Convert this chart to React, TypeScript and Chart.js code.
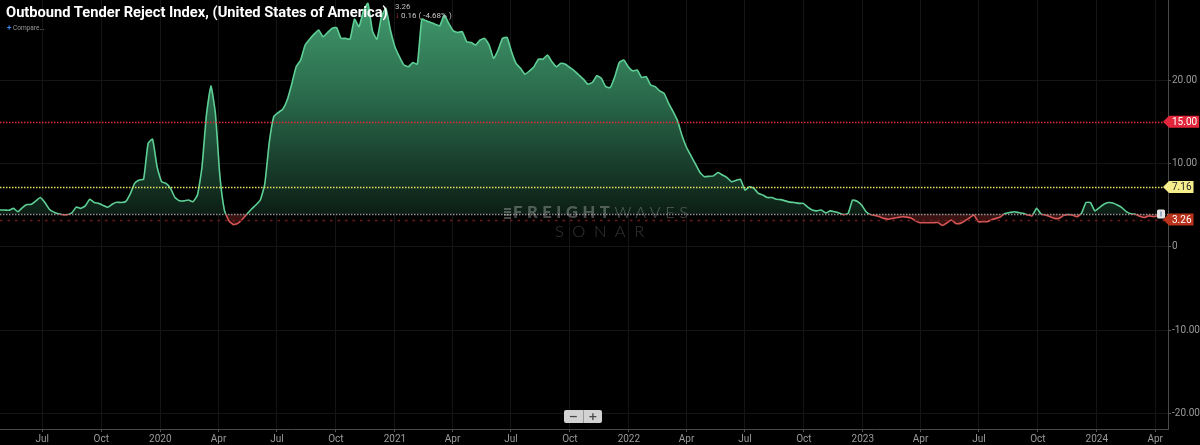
import React, { useEffect, useRef } from "react";
import { Chart, registerables } from "chart.js";

Chart.register(...registerables);

// ---------- text ----------
const titleText = "Outbound Tender Reject Index, (United States of America)";
const lastValueText = "3.26";
const changeText = "0.16 ( -4.68% )";
const compareText = "Compare...";
const watermarkBold = "FREIGHT";
const watermarkLight = "WAVES";
const watermarkSub = "SONAR";

// ---------- data ----------
const seriesStart = "2019-04-26"; // first weekly observation
const weeklyValues = [
  4.4, 4.4, 4.37, 4.6, 4.2, 4.7, 5.05, 5.1, 5.5, 5.9,
  5.3, 4.5, 4.15, 3.95, 3.84, 3.84, 4.05, 4.75, 4.6, 4.9,
  5.7, 5.3, 5.2, 4.95, 4.73, 5.1, 5.33, 5.3, 5.4, 6.3,
  7.6, 8.0, 8.1, 12.4, 12.9, 9.6, 7.8, 7.6, 7.0, 5.9,
  5.5, 5.5, 5.6, 5.4, 6.2, 9.5, 15.8, 19.3, 16.0, 8.5,
  4.4, 3.1, 2.65, 2.8, 3.3, 3.9, 4.5, 5.0, 5.6, 7.5,
  12.5, 15.6, 16.1, 16.5, 17.6, 19.5, 21.6, 22.4, 24.2, 24.9,
  25.5, 26.0, 25.2, 25.7, 26.2, 26.3, 25.0, 25.0, 24.9, 27.3,
  26.4, 28.3, 29.2, 25.9, 24.9, 27.6, 28.6, 26.0, 24.0, 22.8,
  21.8, 21.6, 22.1, 21.9, 27.3, 27.1, 26.9, 26.7, 26.5, 27.8,
  26.8, 25.9, 25.7, 25.8, 24.6, 24.5, 24.2, 24.8, 25.0, 24.2,
  22.6, 23.6, 25.0, 25.1, 23.4, 22.0, 21.4, 20.7, 21.1, 21.6,
  22.5, 22.5, 23.0, 22.2, 21.6, 22.0, 21.9, 21.5, 21.1, 20.6,
  20.1, 19.5, 19.7, 20.5, 20.2, 19.2, 19.1, 20.4, 22.1, 22.4,
  21.6, 21.1, 21.2, 20.3, 20.4, 19.4, 19.2, 18.7, 18.4, 17.2,
  16.2, 15.1, 13.3, 11.9, 10.9, 9.9, 8.9, 8.4, 8.45, 8.5,
  8.9, 8.6, 8.3, 7.8, 7.95, 8.1, 6.8, 7.2, 7.0, 6.4,
  6.2, 5.9, 5.9, 5.7, 5.65, 5.5, 5.35, 5.3, 5.2, 5.2,
  4.75, 4.4, 4.3, 4.4, 4.05, 4.3, 4.2, 4.05, 3.84, 4.0,
  5.6, 5.45, 5.0, 4.2, 3.85, 3.75, 3.6, 3.4, 3.3, 3.4,
  3.5, 3.6, 3.55, 3.45, 3.1, 2.88, 2.88, 2.88, 2.88, 2.9,
  2.55, 2.85, 3.2, 2.8, 2.8, 3.1, 3.45, 3.8, 3.0, 3.0,
  3.0, 3.25, 3.4, 3.6, 4.0, 4.1, 4.2, 4.1, 4.0, 3.8,
  3.7, 4.6, 3.9, 3.8, 3.6, 3.4, 3.4, 3.75, 3.85, 3.8,
  3.6, 4.0, 5.3, 5.3, 4.3, 4.7, 5.1, 5.3, 5.25, 5.0,
  4.7, 4.2, 3.95, 3.9, 3.65, 3.5, 3.7, 3.6, 3.7,
];

const axisStartDate = "2019-04-26";
const axisEndDate = "2024-04-21";
const xTickDates = [
  "2019-07-01", "2019-10-01", "2020-01-01", "2020-04-01", "2020-07-01",
  "2020-10-01", "2021-01-01", "2021-04-01", "2021-07-01", "2021-10-01",
  "2022-01-01", "2022-04-01", "2022-07-01", "2022-10-01", "2023-01-01",
  "2023-04-01", "2023-07-01", "2023-10-01", "2024-01-01", "2024-04-01",
];
const xTickLabels = [
  "Jul", "Oct", "2020", "Apr", "Jul", "Oct", "2021", "Apr", "Jul", "Oct",
  "2022", "Apr", "Jul", "Oct", "2023", "Apr", "Jul", "Oct", "2024", "Apr",
];
const yTickValues = [-20, -10, 0, 10, 20];
const yAxisMin = -21.87;
const yAxisMax = 29.6;

const baselineValue = 3.93; // comparison baseline (grey dotted)
const upperThreshold = 15; // red dotted
const averageValue = 7.16; // yellow dotted
const currentValue = 3.26; // dark red dashed
const upperLabel = "15.00";
const averageLabel = "7.16";
const currentLabel = "3.26";

// ---------- helpers ----------
const DAY_MS = 86400000;
const dayOf = (s: string) => Date.parse(s + "T00:00:00Z") / DAY_MS;

const GREEN = "#5dcf95";
const RED = "#d65454";

function splitGradient(chart: any, above: string, below: string) {
  const { ctx, chartArea: a, scales } = chart;
  if (!a || !scales.y) return above;
  const yb = scales.y.getPixelForValue(baselineValue);
  const t = Math.min(1, Math.max(0, (yb - a.top) / (a.bottom - a.top)));
  const g = ctx.createLinearGradient(0, a.top, 0, a.bottom);
  g.addColorStop(0, above);
  g.addColorStop(t, above);
  g.addColorStop(t, below);
  g.addColorStop(1, below);
  return g;
}

function fillGradient(chart: any) {
  const { ctx, chartArea: a, scales } = chart;
  if (!a || !scales.y) return "rgba(40,100,70,0.8)";
  const yb = scales.y.getPixelForValue(baselineValue);
  const g = ctx.createLinearGradient(0, a.top, 0, yb);
  g.addColorStop(0, "rgba(66,156,111,1)");
  g.addColorStop(0.45, "rgba(42,106,75,1)");
  g.addColorStop(1, "rgba(12,30,21,1)");
  return g;
}

const overlayPlugin = {
  id: "refOverlay",
  afterDatasetsDraw(chart: any) {
    const { ctx, chartArea: a, scales } = chart;
    const y = scales.y;
    const line = (v: number, color: string, dash: number[], width: number) => {
      const py = Math.round(y.getPixelForValue(v)) + 0.5;
      ctx.save();
      ctx.strokeStyle = color;
      ctx.lineWidth = width;
      ctx.setLineDash(dash);
      ctx.beginPath();
      ctx.moveTo(a.left, py);
      ctx.lineTo(a.right, py);
      ctx.stroke();
      ctx.restore();
    };
    line(currentValue, "#6e1b1b", [2.5, 5], 1.5);
    line(baselineValue, "#8f8f8f", [1.5, 1.5], 1.5);
    line(averageValue, "#e6df62", [1.5, 1.5], 1.5);
    line(upperThreshold, "#dc2a3c", [1.5, 1.5], 1.5);

    // small marker at the end of the baseline
    const by = y.getPixelForValue(baselineValue);
    ctx.save();
    ctx.fillStyle = "#e4e4e4";
    ctx.beginPath();
    (ctx as any).roundRect(a.right - 11, by - 4.5, 8, 9, 1.5);
    ctx.fill();
    ctx.strokeStyle = "#5878a8";
    ctx.lineWidth = 1;
    ctx.beginPath();
    ctx.moveTo(a.right - 7, by - 2.5);
    ctx.lineTo(a.right - 7, by + 2.5);
    ctx.stroke();
    ctx.restore();
  },
  afterDraw(chart: any) {
    const { ctx, chartArea: a, scales } = chart;
    const y = scales.y;
    const tag = (v: number, text: string, bg: string, fg: string) => {
      const py = y.getPixelForValue(v);
      ctx.save();
      ctx.font = "10px Roboto";
      const w = ctx.measureText(text).width;
      const tip = a.right - 5;
      const body = a.right + 1;
      const right = body + w + 5;
      const h = 12;
      ctx.fillStyle = bg;
      ctx.beginPath();
      ctx.moveTo(tip, py);
      ctx.lineTo(body, py - h / 2);
      ctx.lineTo(right, py - h / 2);
      ctx.lineTo(right, py + h / 2);
      ctx.lineTo(body, py + h / 2);
      ctx.closePath();
      ctx.fill();
      ctx.fillStyle = fg;
      ctx.textAlign = "left";
      ctx.textBaseline = "middle";
      ctx.fillText(text, body + 3, py + 0.5);
      ctx.restore();
    };
    tag(upperThreshold, upperLabel, "#e1263b", "#ffffff");
    tag(averageValue, averageLabel, "#f6ee8c", "#262626");
    tag(currentValue, currentLabel, "#b9321c", "#ffffff");
  },
};

export default function App() {
  const canvasRef = useRef<HTMLCanvasElement | null>(null);

  useEffect(() => {
    const canvas = canvasRef.current;
    if (!canvas) return;
    const start = dayOf(seriesStart);
    const points = weeklyValues.map((v, i) => ({ x: start + 7 * i, y: v }));

    const chart = new Chart(canvas, {
      type: "line",
      data: {
        datasets: [
          {
            data: points,
            borderWidth: 1.6,
            pointRadius: 0,
            tension: 0.15,
            borderColor: (c: any) => splitGradient(c.chart, GREEN, RED),
            backgroundColor: (c: any) => fillGradient(c.chart),
            fill: { target: { value: baselineValue }, below: "#3a1212" },
          } as any,
        ],
      },
      options: {
        responsive: false,
        animation: false,
        devicePixelRatio: 1,
        layout: { padding: 0 },
        plugins: { legend: { display: false }, tooltip: { enabled: false } },
        scales: {
          x: {
            type: "linear",
            min: dayOf(axisStartDate),
            max: dayOf(axisEndDate),
            afterBuildTicks: (s: any) => {
              s.ticks = xTickDates.map((d) => ({ value: dayOf(d) }));
            },
            afterFit: (s: any) => {
              s.height = 16;
              s.paddingLeft = 0;
              s.paddingRight = 0;
            },
            ticks: {
              autoSkip: false,
              maxRotation: 0,
              padding: 1,
              color: "#9a9a9a",
              font: { family: "Roboto", size: 10 },
              callback: (_v: any, i: number) => xTickLabels[i],
            },
            grid: { color: "#151515", tickColor: "#555555", tickLength: 3 },
            border: { color: "#4a4a4a" },
          },
          y: {
            position: "right",
            min: yAxisMin,
            max: yAxisMax,
            afterBuildTicks: (s: any) => {
              s.ticks = yTickValues.map((v) => ({ value: v }));
            },
            afterFit: (s: any) => {
              s.width = 32;
              s.paddingTop = 0;
              s.paddingBottom = 0;
            },
            ticks: {
              padding: 1,
              color: "#9a9a9a",
              font: { family: "Roboto", size: 10 },
              callback: (v: any) => (Number(v) === 0 ? "0" : Number(v).toFixed(2)),
            },
            grid: { color: "#151515", tickColor: "#555555", tickLength: 3 },
            border: { color: "#4a4a4a" },
          },
        },
      } as any,
      plugins: [overlayPlugin],
    });
    return () => chart.destroy();
  }, []);

  return (
    <div
      style={{
        position: "fixed",
        left: 0,
        top: 0,
        width: 1200,
        height: 445,
        background: "#000",
        overflow: "hidden",
      }}
    >
      <canvas
        ref={canvasRef}
        width={1200}
        height={445}
        style={{ display: "block", width: 1200, height: 445 }}
      />
      {/* watermark */}
      <div
        style={{
          position: "absolute",
          left: 504,
          top: 204,
          whiteSpace: "nowrap",
          fontFamily: "Lato, 'Open Sans', sans-serif",
          fontSize: 16.5,
          lineHeight: "17px",
          letterSpacing: 4.6,
          color: "rgba(255,255,255,0.28)",
        }}
      >
        <span
          style={{
            display: "inline-block",
            width: 7,
            height: 11,
            marginRight: 2,
            verticalAlign: "-1px",
            background:
              "repeating-linear-gradient(0deg, rgba(255,255,255,0.28) 0 2px, transparent 2px 3px)",
          }}
        />
        <span style={{ fontWeight: 900 }}>{watermarkBold}</span>
        <span style={{ fontWeight: 300 }}>{watermarkLight}</span>
      </div>
      <div
        style={{
          position: "absolute",
          left: 555,
          top: 223,
          whiteSpace: "nowrap",
          fontFamily: "Lato, 'Open Sans', sans-serif",
          fontWeight: 300,
          fontSize: 16.5,
          lineHeight: "17px",
          letterSpacing: 8.5,
          color: "rgba(255,255,255,0.2)",
        }}
      >
        {watermarkSub}
      </div>
      {/* title */}
      <div
        style={{
          position: "absolute",
          left: 6,
          top: 5,
          whiteSpace: "nowrap",
          fontFamily: "Roboto, sans-serif",
          fontWeight: 700,
          fontSize: 14.7,
          lineHeight: "15px",
          color: "#ffffff",
        }}
      >
        {titleText}
      </div>
      <div
        style={{
          position: "absolute",
          left: 395,
          top: 2,
          whiteSpace: "nowrap",
          fontFamily: "Roboto, sans-serif",
          fontSize: 8,
          lineHeight: "9px",
          color: "#bdbdbd",
        }}
      >
        {lastValueText}
      </div>
      <div
        style={{
          position: "absolute",
          left: 395,
          top: 11,
          whiteSpace: "nowrap",
          fontFamily: "Roboto, sans-serif",
          fontSize: 8,
          lineHeight: "9px",
          color: "#c8c8c8",
        }}
      >
        <span style={{ color: "#e0464a", fontWeight: 700 }}>↓</span> {changeText}
      </div>
      <div
        style={{
          position: "absolute",
          left: 7,
          top: 24,
          whiteSpace: "nowrap",
          fontFamily: "Roboto, sans-serif",
          fontSize: 6.5,
          lineHeight: "8px",
          color: "#9a9a9a",
        }}
      >
        <span style={{ color: "#3d8bfd", fontWeight: 700, fontSize: 8 }}>+</span>{" "}
        {compareText}
      </div>
      {/* zoom buttons */}
      <div
        style={{
          position: "absolute",
          left: 564,
          top: 410,
          width: 38,
          height: 13,
          background: "#d2d2d2",
          borderRadius: 2,
          display: "flex",
          fontFamily: "DejaVu Sans, sans-serif",
          fontSize: 11,
          fontWeight: 700,
          color: "#474747",
          lineHeight: "13px",
        }}
      >
        <div style={{ flex: 1, textAlign: "center", borderRight: "1px solid #9a9a9a" }}>−</div>
        <div style={{ flex: 1, textAlign: "center" }}>+</div>
      </div>
    </div>
  );
}
